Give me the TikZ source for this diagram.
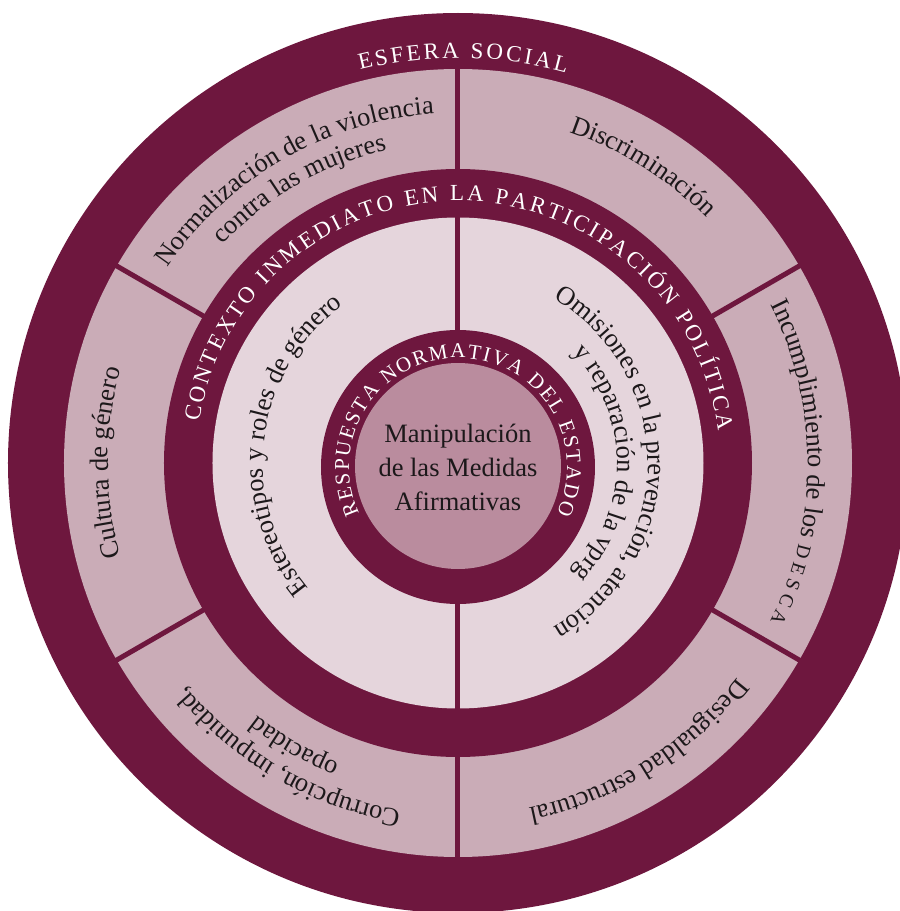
\documentclass[tikz,border=0pt]{standalone}
\usepackage{fontspec}
\setmainfont{Liberation Serif}
\usetikzlibrary{decorations.text}
\definecolor{dk}{RGB}{110,23,62}
\definecolor{band}{RGB}{202,172,183}
\definecolor{pale}{RGB}{229,213,220}
\definecolor{core}{RGB}{186,140,158}
\definecolor{ink}{RGB}{28,24,26}
\newcommand\blk{\fontsize{26.5}{31}\selectfont}
\newcommand\blksc{\fontsize{19.5}{20}\selectfont}
\newcommand\wcap{\fontsize{23}{23}\selectfont}
\newcommand\rcap{\fontsize{21}{21}\selectfont}
\tikzset{
  arcword/.style={decorate, decoration={text along path, text={#1}, text align=center, text color=ink}},
  capsarc/.style={decorate, decoration={text along path, text={#1}, text align=fit to path, text color=white}},
  divider/.style={draw=dk, line width=5pt},
}
\begin{document}
\begin{tikzpicture}[x=1pt,y=1pt]
\useasboundingbox (-458,-448) rectangle (442,463);
\clip (-458,-448) rectangle (442,463);
% rings
\fill[dk] (0,0) circle[radius=450];
\fill[band] (0,0) circle[radius=394];
\foreach \a in {90,30,-30,-90,150,210} \draw[divider] (\a:290) -- (\a:398);
\fill[dk] (0,0) circle[radius=294];
\fill[pale] (0,0) circle[radius=245.5];
\draw[divider] (0,-250) -- (0,250);
\fill[dk] (0,-4) circle[radius=137];
\fill[core] (0,-3) circle[radius=103];
% centre text
\node[align=center, text=ink, font=\fontsize{26.5}{34}\selectfont] (centro) at (0,-4) {Manipulación\\de las Medidas\\Afirmativas};
% white letter-spaced titles
\path[capsarc={|\wcap|ESFERA SOCIAL}] (104:405) arc[start angle=104, end angle=74.5, radius=405];
\path[capsarc={|\wcap|CONTEXTO INMEDIATO EN LA PARTICIPACIÓN POLÍTICA}] (171:262) arc[start angle=171, end angle=7, radius=262];
\path[capsarc={|\rcap|RESPUESTA NORMATIVA DEL ESTADO}] ([shift={(0,-4)}]205:109) arc[start angle=205, end angle=-25, radius=109];
% social sphere
\path[arcword={|\blk|Normalización de la violencia}] (160:350) arc[start angle=160, end angle=80, radius=350];
\path[arcword={|\blk|contra las mujeres}] (160:321) arc[start angle=160, end angle=80, radius=321];
\path[arcword={|\blk|Discriminación}] (98:349) arc[start angle=98, end angle=18, radius=349];
\path[arcword={|\blk|Incumplimiento de los |\blksc|D E S C A}] (40:350) arc[start angle=40, end angle=-40, radius=350];
\path[arcword={|\blk|Desigualdad estructural}] (-18:352) arc[start angle=-18, end angle=-98, radius=352];
\path[arcword={|\blk|Corrupción, impunidad,}] (-80:352) arc[start angle=-80, end angle=-160, radius=352];
\path[arcword={|\blk|opacidad}] (-80:323) arc[start angle=-80, end angle=-160, radius=323];
\path[arcword={|\blk|Cultura de género}] (220:350) arc[start angle=220, end angle=140, radius=350];
% immediate context
\path[arcword={|\blk|Estereotipos y roles de género}] (243:195) arc[start angle=243, end angle=103, radius=195];
\path[arcword={|\blk|Omisiones en la prevención, atención}] (78:190) arc[start angle=78, end angle=-78, radius=190];
\path[arcword={|\blk|y reparación de la vprg}] (78:159) arc[start angle=78, end angle=-78, radius=159];
\end{tikzpicture}
\end{document}
